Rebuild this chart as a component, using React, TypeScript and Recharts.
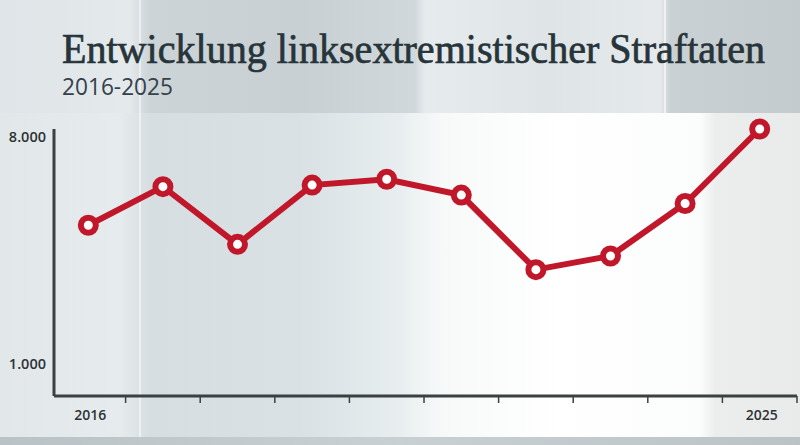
import React from "react";
import { LineChart, Line, XAxis, YAxis } from "recharts";

const years: number[] = [2016, 2017, 2018, 2019, 2020, 2021, 2022, 2023, 2024, 2025];
const values: number[] = [5270, 6460, 4680, 6510, 6690, 6200, 3900, 4320, 5940, 8240];
const labelYears: number[] = [2016, 2025];
const yTicks: number[] = [1000, 8000];
const title = "Entwicklung linksextremistischer Straftaten";
const subtitle = "2016-2025";

const data = years.map((year, i) => ({ year, value: values[i] }));
const boundaryTicks = years.map((y) => y + 0.5);
const xTicks = [...labelYears, ...boundaryTicks].sort((a, b) => a - b);

const fmt = (v: number) => String(v).replace(/\B(?=(\d{3})+(?!\d))/g, ".");

const RED = "#c0182a";
const AXIS = "#3b4043";

const XTick = (props: any) => {
  const { x, y, payload } = props;
  const v = payload.value as number;
  if (labelYears.includes(v)) {
    return (
      <text
        x={x + 2}
        y={y + 24}
        textAnchor="middle"
        fontFamily="'Open Sans', sans-serif"
        fontWeight={600}
        fontSize={14}
        fill="#2e3336"
      >
        {v}
      </text>
    );
  }
  return <line x1={x} x2={x} y1={y} y2={y + 7} stroke={AXIS} strokeWidth={1.5} />;
};

export default function App() {
  return (
    <div
      style={{
        position: "fixed",
        left: 0,
        top: 0,
        width: 800,
        height: 445,
        overflow: "hidden",
        background:
          "linear-gradient(90deg, #e2e8ea 0px, #e6ebed 120px, #d6dee1 150px, #d9e1e4 300px, #e8eef0 400px, #f7f9f9 440px, #ffffff 560px, #fbfcfc 700px, #eceeee 715px, #e9ebeb 800px)",
      }}
    >
      <div
        style={{
          position: "absolute",
          left: 0,
          top: 0,
          width: 800,
          height: 113,
          background:
            "linear-gradient(90deg, #dfe5e8 0px, #e4e9eb 130px, #ccd4d8 150px, #c8d0d4 300px, #d1d8db 415px, #e6ebed 425px, #dfe5e7 550px, #e5e9eb 660px, #cad1d4 670px, #c4cbce 800px)",
        }}
      />
      <div
        style={{
          position: "absolute",
          left: 0,
          top: 437,
          width: 800,
          height: 8,
          background: "linear-gradient(90deg, #b9c2c6, #c9d0d3 50%, #bcc3c6)",
        }}
      />
      <div style={{ position: "absolute", left: 139, top: 0, width: 2, height: 437, background: "rgba(255,255,255,0.5)" }} />
      <div style={{ position: "absolute", left: 664, top: 0, width: 2, height: 113, background: "rgba(255,255,255,0.6)" }} />
      <svg width={800} height={445} style={{ position: "absolute", left: 0, top: 0 }}>
        <text
          x={62}
          y={63}
          fontFamily="'Liberation Serif', serif"
          fontSize={42}
          fill="#27343a"
          stroke="#27343a"
          strokeWidth={0.7}
          textLength={703}
          lengthAdjust="spacingAndGlyphs"
        >
          {title}
        </text>
        <text
          x={62}
          y={95}
          fontFamily="'Open Sans', sans-serif"
          fontSize={23}
          fill="#34424a"
          textLength={111}
          lengthAdjust="spacingAndGlyphs"
        >
          {subtitle}
        </text>
      </svg>
      <div style={{ position: "absolute", left: 0, top: 0 }}>
        <LineChart
          width={800}
          height={445}
          data={data}
          margin={{ top: 129, right: 3, bottom: 19, left: 0 }}
        >
          <XAxis
            dataKey="year"
            type="number"
            domain={[2015.54, 2025.5]}
            ticks={xTicks}
            interval={0}
            allowDecimals
            height={30}
            tickLine={false}
            tickSize={0}
            tickMargin={0}
            axisLine={{ stroke: AXIS, strokeWidth: 3 }}
            tick={<XTick />}
          />
          <YAxis
            type="number"
            domain={[0, 8240]}
            ticks={yTicks}
            width={54}
            tickLine={false}
            tickSize={0}
            tickMargin={8}
            axisLine={{ stroke: AXIS, strokeWidth: 3 }}
            tickFormatter={fmt}
            tick={{ fontFamily: "'Open Sans', sans-serif", fontWeight: 600, fontSize: 14.5, fill: "#2e3336" }}
          />
          <Line
            type="linear"
            dataKey="value"
            stroke={RED}
            strokeWidth={6}
            isAnimationActive={false}
            dot={{ r: 7.5, fill: "#ffffff", stroke: RED, strokeWidth: 6 }}
            activeDot={false}
          />
        </LineChart>
      </div>
    </div>
  );
}
